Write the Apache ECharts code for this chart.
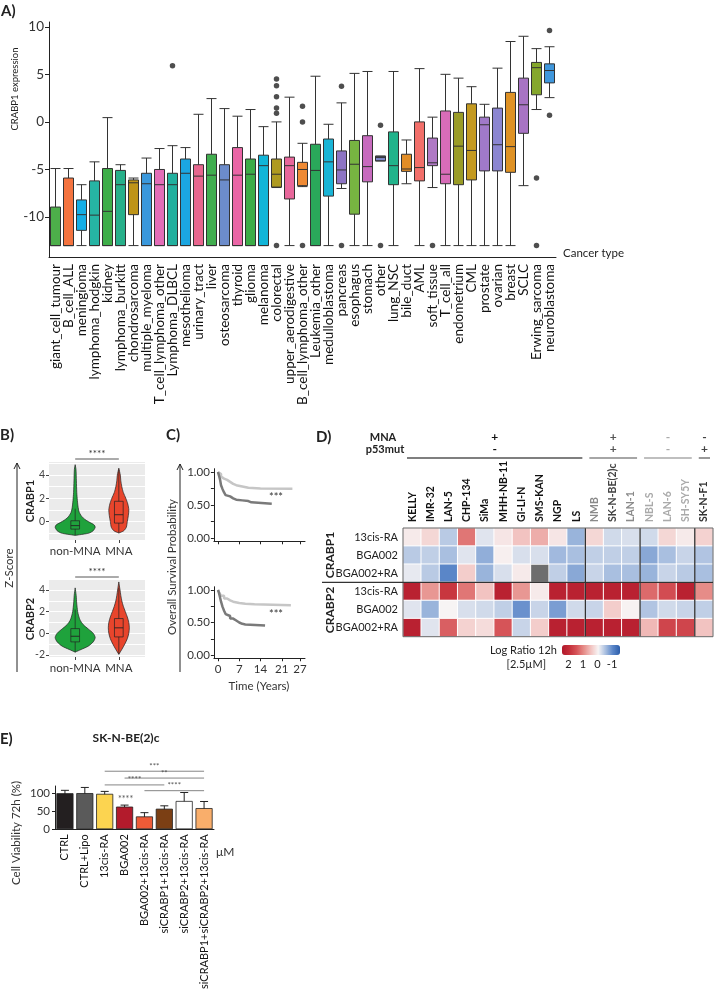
<!DOCTYPE html>
<html><head><meta charset="utf-8">
<script src="https://cdn.jsdelivr.net/npm/echarts@6/dist/echarts.min.js"></script>
<style>html,body{margin:0;padding:0;background:#fff}#c{width:716px;height:992px}</style>
</head><body><div id="c"></div>
<script>
// ---------------- DATA ----------------
// Panel A
const cancerTypes = ['giant_cell_tumour','B_cell_ALL','meningioma','lymphoma_hodgkin','kidney','lymphoma_burkitt','chondrosarcoma','multiple_myeloma','T_cell_lymphoma_other','Lymphoma_DLBCL','mesothelioma','urinary_tract','liver','osteosarcoma','thyroid','glioma','melanoma','colorectal','upper_aerodigestive','B_cell_lymphoma_other','Leukemia_other','medulloblastoma','pancreas','esophagus','stomach','other','lung_NSC','bile_duct','AML','soft_tissue','T_cell_all','endometrium','CML','prostate','ovarian','breast','SCLC','Erwing_sarcoma','neuroblastoma'];
// [lower whisker, Q1, median, Q3, upper whisker]
const crabp1Box = [
 [-13,-13,-13,-8.95,-4.9],[-13,-13,-13,-5.9,-4.9],[-13,-11.4,-9.75,-8.2,-6.6],[-13,-13,-9.8,-6.2,-4.2],
 [-13,-13,-9.4,-4.9,0.45],[-13,-13,-6.6,-5.1,-4.5],[-13,-9.75,-6.4,-6.1,-5.9],[-13,-13,-6.5,-5.4,-3.8],
 [-13,-13,-6.6,-5.0,-2.8],[-13,-13,-6.6,-5.4,-2.5],[-13,-13,-5.4,-3.9,-2.7],[-13,-13,-5.7,-4.5,0.8],
 [-13,-13,-5.6,-3.4,2.45],[-13,-13,-6.1,-4.5,1.4],[-13,-13,-5.6,-2.7,0.6],[-13,-13,-5.5,-3.9,1.3],
 [-13,-13,-4.6,-3.5,-0.5],[-6.9,-6.85,-5.5,-3.9,0],[-13,-8.1,-4.6,-3.7,2.6],[-6.8,-6.7,-5.0,-4.25,-2.25],
 [-13,-13,-5.1,-2.35,4.8],[-13,-7.8,-4.2,-1.8,-0.25],[-7.0,-6.5,-5.05,-3.05,2.0],[-13,-9.7,-4.45,-1.95,5.1],
 [-13,-6.3,-4.7,-1.45,5.3],[-4.1,-4.1,-3.75,-3.6,-3.6],[-13,-6.6,-4.6,-1.05,5.3],[-6.5,-5.2,-4.95,-3.4,-1.9],
 [-13,-6.2,-4.8,0.0,5.6],[-6.9,-4.6,-4.3,-1.7,0.5],[-13,-6.5,-5.5,1.15,5.0],[-13,-6.6,-2.55,1.0,4.6],
 [-13,-6.1,-3.0,1.9,3.7],[-13,-5.15,-0.3,0.5,1.85],[-13,-5.15,-2.4,1.45,5.65],[-13,-5.3,-2.6,3.1,8.45],
 [-6.7,-1.2,1.8,4.6,9.0],[1.3,2.85,5.7,6.25,7.7],[2.55,4.1,5.4,6.1,7.9]
];
// [category index, value]
const crabp1Outliers = [[9,5.9],[17,4.5],[17,3.8],[17,2.65],[17,1.45],[17,0.9],[17,-13],[19,1.65],[19,0],[19,-13],
 [22,3.75],[22,-13],[25,-0.35],[25,-13],[29,-13],[37,-5.9],[37,-13],[38,9.6],[38,0.7]];
const aTickValues = [-10,-5,0,5,10];

// Panel B (violins): [z-score, density]
const violinGroups = ['non-MNA','MNA'];
const violinPositions = [1,2];
const crabp1NonMnaViolin = [[-1.2,0],[-1.1,8],[-1.0,14],[-0.8,18],[-0.5,20],[-0.3,19],[-0.1,15],[0.1,11],[0.3,8],[0.5,6],[0.8,4],[1.2,3],[1.8,2.2],[2.5,1.6],[3.5,1.2],[4.5,0.8],[4.9,0]];
const crabp1MnaViolin = [[-1.0,0],[-0.8,5],[-0.5,7.5],[0,8.5],[0.5,9.5],[1.0,10],[1.5,9],[2.0,7],[2.5,4.5],[3.0,3],[3.5,2],[4.0,1.5],[4.6,0]];
const crabp2NonMnaViolin = [[-1.75,0],[-1.5,6],[-1.2,13],[-0.8,18],[-0.4,20],[0,18],[0.4,13],[0.8,8],[1.2,5],[1.6,3.5],[2.0,2.5],[2.8,1.5],[3.5,1],[4.2,0]];
const crabp2MnaViolin = [[-1.95,0],[-1.5,3],[-1.0,6],[-0.5,8.5],[0,10],[0.5,10.5],[1.0,10],[1.5,8.5],[2.0,6.5],[2.5,4.5],[3.0,3],[3.5,2],[4.0,1.2],[4.75,0]];
// [low, Q1, median, Q3, high]
const crabp1ViolinBoxes = [[-1.2,-0.66,-0.36,0.06,1.1],[-1.0,-0.14,0.58,1.74,4.5]];
const crabp2ViolinBoxes = [[-1.75,-0.8,-0.28,0.43,2.2],[-1.95,-0.34,0.5,1.36,4.2]];
const bTicks1 = [0,2,4], bGrid1 = [-1,0,1,2,3,4,5];
const bTicks2 = [-2,0,2,4], bGrid2 = [-2,-1,0,1,2,3,4];

// Panel C (Kaplan-Meier): [years, survival]
const kmTopLow = [[0,1],[0.5,0.97],[1,0.93],[1.5,0.9],[2,0.88],[3,0.85],[4,0.82],[5,0.8],[6,0.78],[8,0.76],[10,0.75],[14,0.745],[24.5,0.745]];
const kmTopHigh = [[0,1],[0.3,0.95],[0.7,0.88],[1,0.8],[1.5,0.74],[2,0.69],[2.5,0.65],[3,0.63],[4,0.6],[5,0.58],[6,0.57],[8,0.56],[10,0.54],[11,0.52],[17.7,0.52]];
const kmBotLow = [[0,1],[0.5,0.95],[1,0.91],[2,0.87],[3,0.84],[4,0.82],[5,0.8],[7,0.79],[9,0.78],[12,0.765],[24,0.765]];
const kmBotHigh = [[0,1],[0.3,0.96],[0.6,0.9],[1,0.82],[1.5,0.74],[2,0.68],[2.5,0.63],[3,0.6],[4,0.56],[5,0.53],[6,0.5],[7,0.48],[8,0.47],[9,0.455],[15.5,0.455]];
const kmXTicks = [0,7,14,21,27];
const kmYLabels = [0,0.5,1];
const kmYTicks = [0,0.25,0.5,0.75,1];

// Panel D (heatmap)
const cellLines = ['KELLY','IMR-32','LAN-5','CHP-134','SiMa','MHH-NB-11','GI-LI-N','SMS-KAN','NGP','LS','NMB','SK-N-BE(2)c','LAN-1','NBL-S','LAN-6','SH-SY5Y','SK-N-F1'];
const treatments = ['13cis-RA','BGA002','BGA002+RA','13cis-RA ','BGA002 ','BGA002+RA '];
const logRatio = [
 [0.1,0.3,-0.4,1.2,-0.15,0.15,0.5,0.7,0.15,-0.6,0.3,-0.25,-0.2,-0.25,0.3,0.1,0.35],
 [-0.4,-0.35,-0.5,-0.15,-0.65,0.05,-0.2,-0.2,-0.55,-0.5,-0.35,-0.35,-0.35,-0.7,-0.5,-0.3,-0.45],
 [-0.1,-0.4,-1.0,0.4,-0.6,-0.2,0.1,null,-0.35,-0.7,-0.3,-0.5,-0.5,-0.6,-0.3,-0.4,-0.5],
 [2.3,0.9,1.9,1.2,0.5,2.3,0.9,0.1,2.3,2.3,2.3,2.3,2.3,1.3,1.6,2.3,1.0],
 [-0.15,-0.6,0.0,-0.2,-0.25,-0.35,-0.9,-0.3,-0.8,-0.25,-0.3,0.4,0.02,-0.45,-0.25,-0.3,-0.35],
 [2.3,-0.15,1.4,0.35,0.25,1.5,-0.3,0.4,2.3,2.3,2.3,2.3,2.3,0.6,1.7,1.7,0.5]
];
const groupStart = [0,10,13,16];
const groupEnd = [9,12,15,16];
const mnaSigns = ['+','+','-','-'];
const p53Signs = ['-','+','-','+'];
const colSeparators = [10,13,16];
const rowSeparators = [3];
const legendTicks = [2,1,0,-1];

// Panel E (bars)
const conditions = ['CTRL','CTRL+Lipo','13cis-RA','BGA002','BGA002+13cis-RA','siCRABP1+13cis-RA','siCRABP2+13cis-RA','siCRABP1+siCRABP2+13cis-RA'];
const viability = [100,100.3,98.3,62.8,35.6,57,78.5,58.7];
const viabilityLow = [92,84,91,58,25,49.5,53,41];
const viabilityHigh = [108,116,105,67,46,65,102,77];
const eTicks = [0,50,100];
const sigFrom = [2,3,2,4];
const sigTo = [7,7,5,7];
const sigLevel = [161,142,123,107];
const sigLabel = ['***','**','****','****'];
const singleSig = [[3,84,'****']];

// ---------------- STYLE ----------------
const FONT = 'Lato, "Open Sans", "DejaVu Sans", sans-serif';
const boxColors = ['#4DAF4A','#F4733F','#14AEE6','#26B4A4','#3EAE49','#27B08A','#BE9418','#3A98DC','#E36DB7','#22B09E',
 '#1BA6E1','#E8668E','#41AE4F','#6C8CCB','#EA66A6','#3DAC47','#11B5D8','#AE9A20','#E8679B','#EF8A34',
 '#2AA85A','#19B4D6','#8D74C4','#77B441','#C76BBE','#7F89CC','#21B38B','#E28D26','#F26F6A','#B079C5',
 '#D86CB8','#9A9C26','#C49A20','#A079C9','#8B85D1','#DF9225','#A873C4','#85A72C','#3F97DC'];
const violinColors = ['#1FA23C','#E8452C'];
const heatColors = ['#2B5DAA','#5A86C8','#A9BFE0','#F7F4F4','#F2C3C1','#E68C88','#D65458','#C42E39','#B2182B'];
const colLabelColors = ['#111','#111','#111','#111','#111','#111','#111','#111','#111','#111','#8a8a8a','#444','#8a8a8a','#aaa','#aaa','#aaa','#333'];
const groupColors = ['#555','#888','#aaa','#777'];
const signColors = ['#111','#555','#aaa','#444'];
const barColors = ['#231F20','#5A5A5A','#FCD450','#B31B2C','#EF5B37','#7B3F14','#FFFFFF','#F9AE6B'];

const chart = echarts.init(document.getElementById('c'), null, {renderer:'canvas'});

function violinRender(profiles, boxes) {
  const scale = 1/43.6;
  return function(params, api) {
    const i = params.dataIndex;
    const cx = api.value(0);
    const prof = profiles[i];
    const right = prof.map(p => api.coord([cx + p[1]*scale, p[0]]));
    const left = prof.slice().reverse().map(p => api.coord([cx - p[1]*scale, p[0]]));
    const b = boxes[i];
    const bw = 0.1;
    const tl = api.coord([cx - bw, b[3]]), br = api.coord([cx + bw, b[1]]);
    const c = api.coord([cx, 0])[0];
    const yl = api.coord([cx, b[0]])[1], yh = api.coord([cx, b[4]])[1], ym = api.coord([cx, b[2]])[1];
    const st = {stroke:'#222', lineWidth:0.7};
    return {type:'group', children:[
      {type:'polygon', shape:{points:right.concat(left), smooth:0.25}, style:{fill:violinColors[i], stroke:'#222', lineWidth:0.7}},
      {type:'line', shape:{x1:c, y1:yl, x2:c, y2:br[1]}, style:st},
      {type:'line', shape:{x1:c, y1:tl[1], x2:c, y2:yh}, style:st},
      {type:'rect', shape:{x:tl[0], y:tl[1], width:br[0]-tl[0], height:br[1]-tl[1]}, style:{fill:'none', stroke:'#222', lineWidth:0.7}},
      {type:'line', shape:{x1:tl[0], y1:ym, x2:br[0], y2:ym}, style:{stroke:'#222', lineWidth:0.9}}
    ]};
  };
}
function sigRender(label) {
  return function(params, api) {
    const x0 = api.coord([api.value(0), api.value(2)]);
    const x1 = api.coord([api.value(1), api.value(2)]);
    const y = x0[1] - 3;
    return {type:'group', children:[
      {type:'line', shape:{x1:x0[0], y1:y, x2:x1[0], y2:y}, style:{stroke:'#444', lineWidth:0.9}},
      {type:'text', style:{text:label, x:(x0[0]+x1[0])/2, y:y-5, align:'center', verticalAlign:'middle', fill:'#333', fontSize:10, fontFamily:FONT}}
    ]};
  };
}

// heatmap data
const heatData = [], naCells = [];
logRatio.forEach((row, r) => row.forEach((v, c) => { if (v === null) naCells.push([c, r]); else heatData.push([c, r, v]); }));

function txt(x, y, text, o) {
  o = o || {};
  return {type:'text', x:x, y:y, rotation:o.rot || 0, silent:true,
    style:{text:text, fill:o.color || '#222', fontSize:o.size || 11, fontWeight:o.bold ? 'bold' : 'normal', fontFamily:FONT,
      align:o.align || 'center', verticalAlign:o.va || 'middle'}};
}
function arrowAxis(x, yTop, yBot) {
  return [
    {type:'line', silent:true, shape:{x1:x, y1:yTop, x2:x, y2:yBot}, style:{stroke:'#222', lineWidth:1}},
    {type:'polyline', silent:true, shape:{points:[[x-3,yTop+6],[x,yTop],[x+3,yTop+6]]}, style:{stroke:'#222', lineWidth:1, fill:null}}
  ];
}

const axisGrey = {color:'#222'};
const option = {
  animation:false,
  textStyle:{fontFamily:FONT},
  grid:[
    {left:49, top:22, width:507, height:235},
    {left:49, top:462, width:96, height:78, show:true, backgroundColor:'#EBEBEB', borderWidth:0},
    {left:49, top:580, width:96, height:77, show:true, backgroundColor:'#EBEBEB', borderWidth:0},
    {left:213.9, top:468.7, width:91.1, height:72.6},
    {left:213.9, top:586.75, width:91.1, height:71.5},
    {left:403, top:528, width:310, height:108.7},
    {left:562, top:645, width:58, height:10},
    {left:55, top:786, width:159, height:69}
  ],
  xAxis:[
    {gridIndex:0, type:'category', data:cancerTypes, axisLine:{onZero:false, lineStyle:axisGrey}, axisTick:{alignWithLabel:true, length:4, lineStyle:axisGrey},
      axisLabel:{interval:0, rotate:90, fontSize:13.5, color:'#111', margin:7}},
    {gridIndex:1, type:'value', min:0.4, max:2.6, axisLine:{show:false, onZero:false}, splitLine:{show:false},
      axisTick:{show:true, length:3, customValues:violinPositions, lineStyle:{color:'#444'}},
      axisLabel:{customValues:violinPositions, formatter:v => violinGroups[Math.round(v)-1], fontSize:11.5, color:'#333', margin:5}},
    {gridIndex:2, type:'value', min:0.4, max:2.6, axisLine:{show:false, onZero:false}, splitLine:{show:false},
      axisTick:{show:true, length:3, customValues:violinPositions, lineStyle:{color:'#444'}},
      axisLabel:{customValues:violinPositions, formatter:v => violinGroups[Math.round(v)-1], fontSize:11.5, color:'#333', margin:5}},
    {gridIndex:3, type:'value', min:-1.35, max:28.65, axisLine:{onZero:false, lineStyle:axisGrey}, splitLine:{show:false},
      axisTick:{customValues:kmXTicks, length:3, lineStyle:axisGrey}, axisLabel:{show:false}},
    {gridIndex:4, type:'value', min:-1.35, max:28.65, axisLine:{onZero:false, lineStyle:axisGrey}, splitLine:{show:false},
      axisTick:{customValues:kmXTicks, length:3, lineStyle:axisGrey}, axisLabel:{customValues:kmXTicks, fontSize:11.5, color:'#333', margin:5}},
    {gridIndex:5, type:'category', data:cellLines, position:'top', axisLine:{show:false}, axisTick:{show:false}, axisLabel:{show:false}},
    {gridIndex:6, type:'value', min:-1.55, max:2.45, inverse:true, axisLine:{show:false, onZero:false}, splitLine:{show:false},
      axisTick:{show:true, inside:true, length:2, customValues:legendTicks, lineStyle:{color:'#fff'}},
      axisLabel:{customValues:legendTicks, fontSize:11, color:'#222', margin:4}},
    {gridIndex:7, type:'category', data:conditions, axisLine:{onZero:false, lineStyle:axisGrey}, axisTick:{show:false},
      axisLabel:{interval:0, rotate:90, fontSize:11, color:'#111', margin:5}}
  ],
  yAxis:[
    {gridIndex:0, type:'value', min:-14.2, max:10.5, axisLine:{show:true, onZero:false, lineStyle:axisGrey}, splitLine:{show:false},
      axisTick:{show:true, length:4, customValues:aTickValues, lineStyle:axisGrey}, axisLabel:{customValues:aTickValues, fontSize:13.5, color:'#333', margin:5}},
    {gridIndex:1, type:'value', min:-1.6, max:5.13, position:'left', axisLine:{show:false, onZero:false}, axisLabel:{show:false},
      axisTick:{show:false, customValues:bGrid1}, splitLine:{show:true, lineStyle:{color:'#fff', width:1}}},
    {gridIndex:1, type:'value', min:-1.6, max:5.13, position:'left', axisLine:{show:false, onZero:false}, splitLine:{show:false},
      axisTick:{show:true, length:3, customValues:bTicks1, lineStyle:{color:'#444'}}, axisLabel:{customValues:bTicks1, fontSize:10.5, color:'#444', margin:4}},
    {gridIndex:2, type:'value', min:-2.2, max:4.93, position:'left', axisLine:{show:false, onZero:false}, axisLabel:{show:false},
      axisTick:{show:false, customValues:bGrid2}, splitLine:{show:true, lineStyle:{color:'#fff', width:1}}},
    {gridIndex:2, type:'value', min:-2.2, max:4.93, position:'left', axisLine:{show:false, onZero:false}, splitLine:{show:false},
      axisTick:{show:true, length:3, customValues:bTicks2, lineStyle:{color:'#444'}}, axisLabel:{customValues:bTicks2, fontSize:10.5, color:'#444', margin:4}},
    {gridIndex:3, type:'value', min:-0.05, max:1.05, axisLine:{show:true, onZero:false, lineStyle:axisGrey}, splitLine:{show:false},
      axisTick:{show:true, length:3, customValues:kmYTicks, lineStyle:axisGrey}, axisLabel:{customValues:kmYLabels, formatter:v => v.toFixed(2), fontSize:11.5, color:'#333', margin:4}},
    {gridIndex:4, type:'value', min:-0.05, max:1.05, axisLine:{show:true, onZero:false, lineStyle:axisGrey}, splitLine:{show:false},
      axisTick:{show:true, length:3, customValues:kmYTicks, lineStyle:axisGrey}, axisLabel:{customValues:kmYLabels, formatter:v => v.toFixed(2), fontSize:11.5, color:'#333', margin:4}},
    {gridIndex:5, type:'category', data:treatments, inverse:true, axisLine:{show:false}, axisTick:{show:false},
      axisLabel:{fontSize:11, color:'#222', margin:5, formatter:v => v.trim()}},
    {gridIndex:6, type:'value', show:false, min:0, max:1},
    {gridIndex:7, type:'value', min:0, max:120, axisLine:{show:true, onZero:false, lineStyle:axisGrey}, splitLine:{show:false},
      axisTick:{show:true, length:3, customValues:eTicks, lineStyle:axisGrey}, axisLabel:{customValues:eTicks, fontSize:11.5, color:'#333', margin:5}}
  ],
  visualMap:{type:'continuous', min:-1.5, max:2.5, seriesIndex:10, orient:'horizontal', inverse:true, left:562, top:645,
    itemWidth:10, itemHeight:58, padding:0, calculable:false, hoverLink:false, text:['',''], showLabel:false,
    inRange:{color:heatColors}},
  series:[
    // 0 boxplot
    {type:'boxplot', xAxisIndex:0, yAxisIndex:0, boxWidth:[10,10], silent:true,
      data:crabp1Box.map((v,i) => ({value:v, itemStyle:{color:boxColors[i], borderColor:'#333', borderWidth:1}}))},
    // 1 outliers
    {type:'scatter', xAxisIndex:0, yAxisIndex:0, symbolSize:5.5, itemStyle:{color:'#222'}, silent:true, data:crabp1Outliers},
    // 2 violin CRABP1
    {type:'custom', xAxisIndex:1, yAxisIndex:1, silent:true, data:violinPositions.map(p => [p]),
      renderItem:violinRender([crabp1NonMnaViolin, crabp1MnaViolin], crabp1ViolinBoxes)},
    // 3 sig CRABP1
    {type:'custom', xAxisIndex:1, yAxisIndex:1, silent:true, clip:false, data:[[1,2,5.13]], renderItem:sigRender('****')},
    // 4 violin CRABP2
    {type:'custom', xAxisIndex:2, yAxisIndex:3, silent:true, data:violinPositions.map(p => [p]),
      renderItem:violinRender([crabp2NonMnaViolin, crabp2MnaViolin], crabp2ViolinBoxes)},
    // 5 sig CRABP2
    {type:'custom', xAxisIndex:2, yAxisIndex:3, silent:true, clip:false, data:[[1,2,4.93]], renderItem:sigRender('****')},
    // 6-9 KM
    {type:'line', xAxisIndex:3, yAxisIndex:5, step:'end', showSymbol:false, silent:true, data:kmTopLow, lineStyle:{color:'#C6C6C6', width:2.5}},
    {type:'line', xAxisIndex:3, yAxisIndex:5, step:'end', showSymbol:false, silent:true, data:kmTopHigh, lineStyle:{color:'#7A7A7A', width:2.5}},
    {type:'line', xAxisIndex:4, yAxisIndex:6, step:'end', showSymbol:false, silent:true, data:kmBotLow, lineStyle:{color:'#C6C6C6', width:2.5}},
    {type:'line', xAxisIndex:4, yAxisIndex:6, step:'end', showSymbol:false, silent:true, data:kmBotHigh, lineStyle:{color:'#7A7A7A', width:2.5}},
    // 10 heatmap
    {type:'heatmap', xAxisIndex:5, yAxisIndex:7, silent:true, data:heatData, itemStyle:{borderColor:'#fff', borderWidth:1}},
    // 11 NA cells
    {type:'custom', xAxisIndex:5, yAxisIndex:7, silent:true, data:naCells, renderItem:(params, api) => {
      const p = api.coord([api.value(0), api.value(1)]); const s = api.size([1,1]);
      return {type:'rect', shape:{x:p[0]-s[0]/2+0.5, y:p[1]-s[1]/2+0.5, width:s[0]-1, height:s[1]-1}, style:{fill:'#6E6E6E'}};
    }},
    // 12 column separators
    {type:'custom', xAxisIndex:5, yAxisIndex:7, silent:true, clip:false, data:colSeparators.map(c => [c]), renderItem:(params, api) => {
      const s = api.size([1,1]);
      const x = api.coord([api.value(0), 0])[0] - s[0]/2;
      const y0 = api.coord([0, 0])[1] - s[1]/2, y1 = api.coord([0, treatments.length-1])[1] + s[1]/2;
      return {type:'line', shape:{x1:x, y1:y0, x2:x, y2:y1}, style:{stroke:'#333', lineWidth:1.3}};
    }},
    // 13 row separators + frame
    {type:'custom', xAxisIndex:5, yAxisIndex:7, silent:true, clip:false, data:rowSeparators.map(r => [r]), renderItem:(params, api) => {
      const s = api.size([1,1]);
      const y = api.coord([0, api.value(0)])[1] - s[1]/2;
      const x0 = api.coord([0, 0])[0] - s[0]/2, x1 = api.coord([cellLines.length-1, 0])[0] + s[0]/2;
      const y0 = api.coord([0, 0])[1] - s[1]/2, y1 = api.coord([0, treatments.length-1])[1] + s[1]/2;
      return {type:'group', children:[
        {type:'rect', shape:{x:x0, y:y0, width:x1-x0, height:y1-y0}, style:{fill:'none', stroke:'#666', lineWidth:1}},
        {type:'line', shape:{x1:x0-81, y1:y, x2:x1, y2:y}, style:{stroke:'#333', lineWidth:1.3}}
      ]};
    }},
    // 14 group headers
    {type:'custom', xAxisIndex:5, yAxisIndex:7, silent:true, clip:false, data:groupStart.map((s,i) => [s, groupEnd[i], i]), renderItem:(params, api) => {
      const sz = api.size([1,1]);
      const i = api.value(2);
      const x0 = api.coord([api.value(0), 0])[0] - sz[0]/2 + 4;
      const x1 = api.coord([api.value(1), 0])[0] + sz[0]/2 - 3;
      const top = api.coord([0, 0])[1] - sz[1]/2;
      const cx = (x0 + x1)/2;
      return {type:'group', children:[
        {type:'line', shape:{x1:x0, y1:top-70, x2:x1, y2:top-70}, style:{stroke:groupColors[i], lineWidth:1.5}},
        {type:'text', style:{text:mnaSigns[i], x:cx, y:top-91, align:'center', verticalAlign:'middle', fill:signColors[i], fontSize:12, fontWeight:'bold', fontFamily:FONT}},
        {type:'text', style:{text:p53Signs[i], x:cx, y:top-79, align:'center', verticalAlign:'middle', fill:signColors[i], fontSize:12, fontWeight:'bold', fontFamily:FONT}}
      ]};
    }},
    // 15 colorbar axis host
    {type:'line', xAxisIndex:6, yAxisIndex:8, data:[], silent:true},
    // 16 bars
    {type:'bar', xAxisIndex:7, yAxisIndex:9, silent:true, barCategoryGap:'14%',
      data:viability.map((v,i) => ({value:v, itemStyle:{color:barColors[i], borderColor:'#222', borderWidth:0.8}}))},
    // 17 error bars
    {type:'custom', xAxisIndex:7, yAxisIndex:9, silent:true, clip:false, data:viabilityLow.map((l,i) => [i, l, viabilityHigh[i]]), renderItem:(params, api) => {
      const lo = api.coord([api.value(0), api.value(1)]), hi = api.coord([api.value(0), api.value(2)]);
      const w = 4;
      const st = {stroke:'#222', lineWidth:1};
      return {type:'group', children:[
        {type:'line', shape:{x1:lo[0], y1:lo[1], x2:hi[0], y2:hi[1]}, style:st},
        {type:'line', shape:{x1:lo[0]-w, y1:lo[1], x2:lo[0]+w, y2:lo[1]}, style:st},
        {type:'line', shape:{x1:hi[0]-w, y1:hi[1], x2:hi[0]+w, y2:hi[1]}, style:st}
      ]};
    }},
    // 18 significance brackets
    {type:'custom', xAxisIndex:7, yAxisIndex:9, silent:true, clip:false, data:sigFrom.map((f,i) => [f, sigTo[i], sigLevel[i], i]), renderItem:(params, api) => {
      const a = api.coord([api.value(0), api.value(2)]), b = api.coord([api.value(1), api.value(2)]);
      return {type:'group', children:[
        {type:'line', shape:{x1:a[0], y1:a[1], x2:b[0], y2:b[1]}, style:{stroke:'#777', lineWidth:0.9}},
        {type:'text', style:{text:sigLabel[api.value(3)], x:(a[0]+b[0])/2, y:a[1]-5, align:'center', verticalAlign:'middle', fill:'#555', fontSize:8, fontFamily:FONT}}
      ]};
    }},
    // 19 single annotation
    {type:'custom', xAxisIndex:7, yAxisIndex:9, silent:true, clip:false, data:singleSig, renderItem:(params, api) => {
      const p = api.coord([api.value(0), api.value(1)]);
      return {type:'text', style:{text:singleSig[params.dataIndex][2], x:p[0]+1, y:p[1], align:'center', verticalAlign:'middle', fill:'#555', fontSize:9, fontFamily:FONT}};
    }},
    // 20 heatmap column labels
    {type:'custom', xAxisIndex:5, yAxisIndex:7, silent:true, clip:false, data:cellLines.map((c,i) => [i]), renderItem:(params, api) => {
      const i = api.value(0);
      const sz = api.size([1,1]);
      const p = api.coord([i, 0]);
      const top = p[1] - sz[1]/2;
      return {type:'text', x:p[0], y:top-6, rotation:Math.PI/2,
        style:{text:cellLines[i], x:0, y:0, align:'left', verticalAlign:'middle', fill:colLabelColors[i], fontSize:10.5, fontWeight:'bold', fontFamily:FONT}};
    }}
  ],
  graphic:[
    txt(1, 11, 'A)', {bold:true, size:15, align:'left'}),
    txt(15, 89, 'CRABP1 expression', {rot:Math.PI/2, size:9.5}),
    txt(563, 253, 'Cancer type', {align:'left', size:11.5}),
    txt(0, 435, 'B)', {bold:true, size:15, align:'left'}),
    txt(166, 435, 'C)', {bold:true, size:15, align:'left'}),
    txt(316, 437, 'D)', {bold:true, size:15, align:'left'}),
    txt(0, 739, 'E)', {bold:true, size:15, align:'left'}),
    txt(30, 501, 'CRABP1', {rot:Math.PI/2, bold:true, size:11}),
    txt(30, 619, 'CRABP2', {rot:Math.PI/2, bold:true, size:11}),
    txt(9, 568, 'Z-Score', {rot:Math.PI/2, size:11.5, color:'#333'}),
    ...arrowAxis(17, 463, 672),
    txt(172, 567, 'Overall Survival Probability', {rot:Math.PI/2, size:11.5, color:'#333'}),
    ...arrowAxis(180, 464, 672),
    txt(259, 686, 'Time (Years)', {size:11.5, color:'#333'}),
    txt(276, 497, '***', {size:11, color:'#333'}),
    txt(276, 614, '***', {size:11, color:'#333'}),
    txt(383, 437, 'MNA', {bold:true, size:11}),
    txt(385, 449, 'p53mut', {bold:true, size:11}),
    txt(330, 555, 'CRABP1', {rot:Math.PI/2, bold:true, size:12}),
    txt(330, 610, 'CRABP2', {rot:Math.PI/2, bold:true, size:12}),
    txt(557, 650, 'Log Ratio 12h', {align:'right', size:11}),
    txt(546, 664, '[2.5µM]', {align:'right', size:11}),
    txt(126, 738, 'SK-N-BE(2)c', {bold:true, size:12}),
    txt(16, 833, 'Cell Viability 72h (%)', {rot:Math.PI/2, size:11.5, color:'#333'}),
    txt(216, 852, 'μM', {align:'left', size:12, color:'#333'})
  ]
};
chart.setOption(option);
</script></body></html>
